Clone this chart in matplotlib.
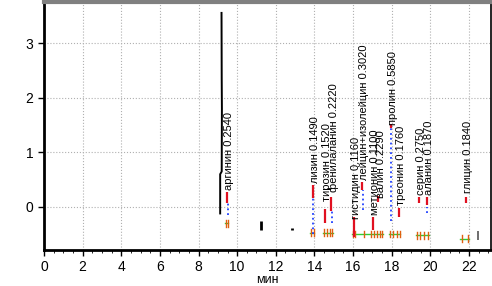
import matplotlib.pyplot as plt
import numpy as np

plt.rcParams['font.family'] = ['Liberation Sans', 'DejaVu Sans']

# peaks: retention time, label, label start height
peak_rt = [9.47, 13.92, 14.54, 14.86, 16.05, 16.46, 17.03, 17.30, 17.96, 18.37, 19.41, 19.82, 21.84]
peak_names = ['аргинин 0.2540', 'лизин 0.1490', 'тирозин 0.1520', 'фенилаланин 0.2220',
              'гистидин 0.1160', 'лейцин+изолейцин 0.3020', 'метионин 0.1100', 'валин 0.2290',
              'пролин 0.5850', 'треонин 0.1760', 'серин 0.2750', 'аланин 0.1870', 'глицин 0.1840']
label_y = [0.31, 0.44, 0.10, 0.28, -0.22, 0.50, -0.14, 0.17, 1.50, 0.04, 0.22, 0.22, 0.26]
# red peak-top marks (low, high)
red_lo = [0.07, 0.17, -0.30, -0.08, -0.55, 0.31, -0.42, 0.09, 1.45, -0.18, 0.07, 0.04, 0.07]
red_hi = [0.27, 0.40, -0.04, 0.19, -0.18, 0.46, -0.18, 0.20, 1.53, -0.02, 0.19, 0.19, 0.19]
# blue dotted descents (x, top, bottom)
blue_x = [9.52, 13.95, 14.92, 16.50, 17.98, 19.85]
blue_top = [0.07, 0.17, -0.05, 0.31, 1.45, 0.0]
blue_bot = [-0.15, -0.50, -0.30, -0.05, -0.25, -0.12]

# baseline segments (start, end, level)
base_start = [9.38, 13.75, 14.45, 15.95, 17.85, 19.25, 21.55]
base_end = [9.55, 14.00, 14.95, 17.55, 18.45, 19.95, 22.00]
base_y = [-0.30, -0.47, -0.47, -0.50, -0.50, -0.52, -0.58]
# baseline tick marks (H markers)
tick_x = [9.40, 9.52, 13.80, 13.98, 14.50, 14.65, 14.80, 14.92, 16.00, 16.12, 16.55, 16.95,
          17.10, 17.25, 17.40, 17.52, 17.90, 18.05, 18.25, 18.42, 19.30, 19.48, 19.65, 19.88,
          21.62, 21.95]

# black trace fragments
arg_x = [9.12, 9.12, 9.20, 9.21, 9.20, 9.19]
arg_y = [-0.12, 0.60, 0.65, 1.80, 2.35, 3.56]
blob_x = [11.23, 12.84, 22.45]
blob_lo = [-0.42, -0.42, -0.60]
blob_hi = [-0.25, -0.38, -0.45]

fig = plt.figure(figsize=(4.92, 2.86), dpi=100)
ax = fig.add_axes([0.0894, 0.126, 0.9086, 0.867])

ax.grid(True, color='#b0b0b0', linestyle=':', linewidth=0.8)
ax.set_axisbelow(True)

ax.plot(arg_x, arg_y, color='black', linewidth=1.4)
ax.vlines(blob_x[:2], blob_lo[:2], blob_hi[:2], color='black', linewidth=2)
ax.vlines(blob_x[2], blob_lo[2], blob_hi[2], color='#555555', linewidth=1.2)

for x0, x1, y in zip(base_start, base_end, base_y):
    ax.plot([x0, x1], [y, y], color='#33cc33', linewidth=1.0)
for tx in tick_x:
    i = int(np.searchsorted(base_end, tx))
    y = base_y[min(i, len(base_y) - 1)]
    ax.plot([tx, tx], [y - 0.06, y + 0.06], color='#e06010', linewidth=1.0)

ax.vlines(blue_x, blue_bot, blue_top, color='#2040ff', linewidth=1.3, linestyles=':')
ax.vlines(peak_rt, red_lo, red_hi, color='#e01020', linewidth=1.6)

for rt, name, ly in zip(peak_rt, peak_names, label_y):
    ax.text(rt + 0.12, ly, name, rotation=90, rotation_mode='anchor',
            ha='left', va='center', fontsize=8)

ax.set_xlim(0, 23.14)
ax.set_ylim(-0.79, 3.76)
ax.set_xticks(np.arange(0, 23, 2))
ax.set_xticks(np.arange(0, 23.1, 0.5), minor=True)
ax.set_yticks([0, 1, 2, 3])
ax.tick_params(labelsize=10, length=4, width=1)
ax.tick_params(axis='x', which='minor', length=2.5)
ax.set_xlabel('мин', fontsize=9)
ax.xaxis.set_label_coords(0.5, -0.095)

for s in ['left', 'bottom']:
    ax.spines[s].set_linewidth(2)
ax.spines['top'].set_color('#808080')
ax.spines['top'].set_linewidth(3)
ax.spines['right'].set_linewidth(1.2)

fig.savefig('out.png', dpi=100)
